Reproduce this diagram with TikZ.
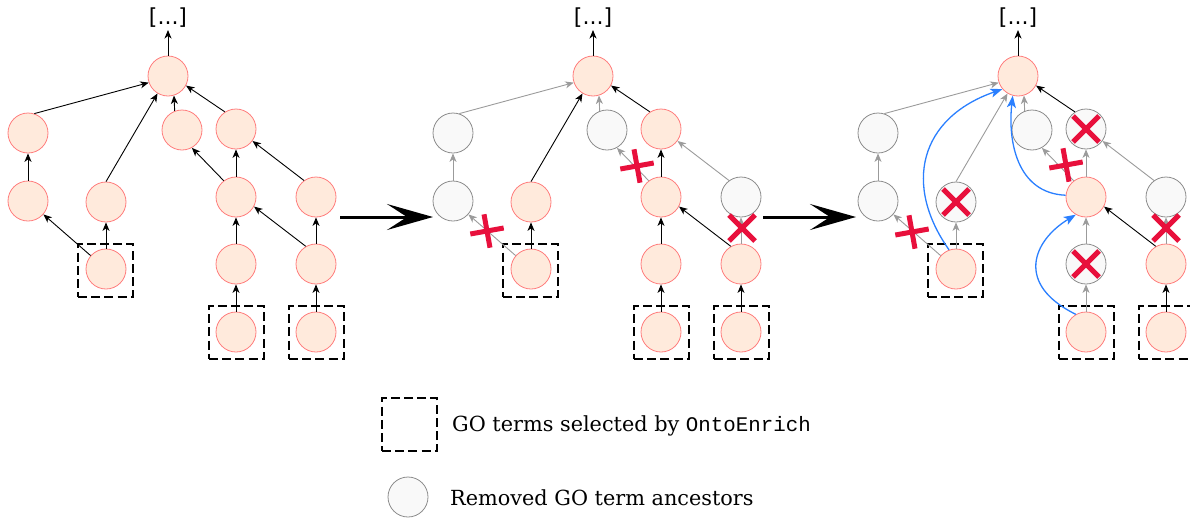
\documentclass[tikz,border=0pt]{standalone}
\usepackage{fontspec}
\setmainfont{DejaVu Serif}
\setsansfont{DejaVu Sans}
\setmonofont{Liberation Mono}
\usetikzlibrary{arrows.meta}
\definecolor{peach}{RGB}{255,234,220}
\definecolor{peachline}{RGB}{255,125,125}
\definecolor{grayfill}{RGB}{249,249,249}
\definecolor{grayline}{RGB}{140,140,140}
\definecolor{grayedge}{RGB}{155,155,155}
\definecolor{crossred}{RGB}{232,16,60}
\definecolor{curveblue}{RGB}{42,127,255}
\tikzset{
  term/.style={circle, minimum size=40pt, inner sep=0pt, draw=peachline, fill=peach, line width=0.8pt},
  removed/.style={term, draw=grayline, fill=grayfill},
  selbox/.style={draw=black, line width=2pt, dash pattern=on 9pt off 4.2pt, minimum width=55pt, minimum height=53pt, inner sep=0pt},
  bedge/.style={line width=0.9pt, draw=black, -{Stealth[length=8.5pt,width=7pt,inset=2.5pt]}},
  gedge/.style={bedge, draw=grayedge},
  redmark/.style={draw=crossred, line width=5pt},
  bluecurve/.style={draw=curveblue, line width=1.3pt, -{Stealth[length=12pt,width=9pt,inset=3pt]}},
  bigarrow/.style={line width=3pt, -{Stealth[length=46pt,width=26pt,inset=20pt]}},
  dotsnode/.style={font=\sffamily\fontsize{22}{24}\selectfont, inner sep=2.5pt},
  legtext/.style={font=\fontsize{20.8}{24}\selectfont, inner sep=0pt, anchor=base west},
  plusmark/.pic={\draw[redmark] (-16.7,3) -- (16.7,-3); \draw[redmark] (-3,-16.7) -- (3,16.7);},
  xmark/.pic={\draw[redmark] (-13,-13) -- (13,13); \draw[redmark] (-13,13) -- (13,-13);}
}
\begin{document}
\begin{tikzpicture}[x=1pt,y=-1pt]
\useasboundingbox (0,0) rectangle (1190,517);

% ---------------- Panel 1 ----------------
\begin{scope}[name prefix=a]
  \node[dotsnode] (dots) at (168,17.5) {[...]};
  \node[term] (T) at (168,76) {};
  \node[term] (A1) at (28,133) {};
  \node[term] (A2) at (28,201) {};
  \node[term] (B1) at (106,202) {};
  \node[term] (S1) at (106,269) {};
  \node[term] (C1) at (182,130) {};
  \node[term] (D1) at (236,129) {};
  \node[term] (D2) at (236,197) {};
  \node[term] (E1) at (316,197) {};
  \node[term] (D3) at (236,264) {};
  \node[term] (E2) at (316,264) {};
  \node[term] (D4) at (236,332) {};
  \node[term] (E3) at (316,332) {};
  \node[selbox] (S1box) at (105.5,270.5) {};
  \node[selbox] (D4box) at (236.5,332) {};
  \node[selbox] (E3box) at (316.5,332) {};
  \draw[bedge] (T.north) -- (dots.south);
  \draw[bedge] (A1.72) -- (T.-161);
  \draw[bedge] (B1.north) -- (T.-121);
  \draw[bedge] (C1.111) -- (T.-73);
  \draw[bedge] (D1.123) -- (T.-28);
  \draw[bedge] (A2.north) -- (A1.south);
  \draw[bedge] (S1) -- (A2);
  \draw[bedge] (S1.north) -- (B1.south);
  \draw[bedge] (D2.127) -- (C1.-61);
  \draw[bedge] (D2.north) -- (D1.south);
  \draw[bedge] (E1.126) -- (D1.-36);
  \draw[bedge] (D3.north) -- (D2.south);
  \draw[bedge] (E2.120) -- (D2.-28);
  \draw[bedge] (E2.north) -- (E1.south);
  \draw[bedge] (D4.north) -- (D3.south);
  \draw[bedge] (E3.north) -- (E2.south);
\end{scope}

% ---------------- Panel 2 ----------------
\begin{scope}[xshift=425pt, name prefix=b]
  \node[dotsnode] (dots) at (168,17.5) {[...]};
  \node[term] (T) at (168,76) {};
  \node[removed] (A1) at (28,133) {};
  \node[removed] (A2) at (28,201) {};
  \node[term] (B1) at (106,202) {};
  \node[term] (S1) at (106,269) {};
  \node[removed] (C1) at (182,130) {};
  \node[term] (D1) at (236,129) {};
  \node[term] (D2) at (236,197) {};
  \node[removed] (E1) at (316,197) {};
  \node[term] (D3) at (236,264) {};
  \node[term] (E2) at (316,264) {};
  \node[term] (D4) at (236,332) {};
  \node[term] (E3) at (316,332) {};
  \node[selbox] (S1box) at (105.5,270.5) {};
  \node[selbox] (D4box) at (236.5,332) {};
  \node[selbox] (E3box) at (316.5,332) {};
  \draw[bedge] (T.north) -- (dots.south);
  \draw[gedge] (A1.72) -- (T.-161);
  \draw[bedge] (B1.north) -- (T.-121);
  \draw[gedge] (C1.111) -- (T.-73);
  \draw[bedge] (D1.123) -- (T.-28);
  \draw[gedge] (A2.north) -- (A1.south);
  \draw[gedge] (S1) -- (A2);
  \draw[bedge] (S1.north) -- (B1.south);
  \draw[gedge] (D2.127) -- (C1.-61);
  \draw[bedge] (D2.north) -- (D1.south);
  \draw[gedge] (E1.126) -- (D1.-36);
  \draw[bedge] (D3.north) -- (D2.south);
  \draw[bedge] (E2.120) -- (D2.-28);
  \draw[gedge] (E2.north) -- (E1.south);
  \draw[bedge] (D4.north) -- (D3.south);
  \draw[bedge] (E3.north) -- (E2.south);
\end{scope}
\pic at (487,231) {plusmark};
\pic at (637,166) {plusmark};
\pic at (742,228) {xmark};

% ---------------- Panel 3 ----------------
\begin{scope}[xshift=850pt, name prefix=c]
  \node[dotsnode] (dots) at (168,17.5) {[...]};
  \node[term] (T) at (168,76) {};
  \node[removed] (A1) at (28,133) {};
  \node[removed] (A2) at (28,201) {};
  \node[removed] (B1) at (106,202) {};
  \node[term] (S1) at (106,269) {};
  \node[removed] (C1) at (182,130) {};
  \node[removed] (D1) at (236,129) {};
  \node[term] (D2) at (236,197) {};
  \node[removed] (E1) at (316,197) {};
  \node[removed] (D3) at (236,264) {};
  \node[term] (E2) at (316,264) {};
  \node[term] (D4) at (236,332) {};
  \node[term] (E3) at (316,332) {};
  \node[selbox] (S1box) at (105.5,270.5) {};
  \node[selbox] (D4box) at (236.5,332) {};
  \node[selbox] (E3box) at (316.5,332) {};
  \draw[bedge] (T.north) -- (dots.south);
  \draw[gedge] (A1.72) -- (T.-161);
  \draw[gedge] (B1.north) -- (T.-121);
  \draw[gedge] (C1.111) -- (T.-73);
  \draw[bedge] (D1.123) -- (T.-28);
  \draw[gedge] (A2.north) -- (A1.south);
  \draw[gedge] (S1) -- (A2);
  \draw[gedge] (S1.north) -- (B1.south);
  \draw[gedge] (D2.127) -- (C1.-61);
  \draw[gedge] (D2.north) -- (D1.south);
  \draw[gedge] (E1.126) -- (D1.-36);
  \draw[gedge] (D3.north) -- (D2.south);
  \draw[bedge] (E2.120) -- (D2.-28);
  \draw[gedge] (E2.north) -- (E1.south);
  \draw[gedge] (D4.north) -- (D3.south);
  \draw[bedge] (E3.north) -- (E2.south);
  \draw[bluecurve] (S1.110) .. controls +(-46,-65) and +(-83,29) .. (T.-140);
  \draw[bluecurve] (D2.175) .. controls +(-49,-2) and +(-5,45) .. (T.-105);
  \draw[bluecurve] (D4.120) .. controls +(-61,-30) and +(-43,26) .. (D2.-120);
\end{scope}
\pic at (912,232) {plusmark};
\pic at (956,202) {xmark};
\pic at (1086,129) {xmark};
\pic at (1066,165) {plusmark};
\pic at (1166,228) {xmark};
\pic at (1086,264) {xmark};

% ---------------- Big arrows ----------------
\coordinate (arrAs) at (340,217);
\coordinate (arrAe) at (433,217);
\coordinate (arrBs) at (763,217);
\coordinate (arrBe) at (856,217);
\draw[bigarrow] (arrAs) -- (arrAe);
\draw[bigarrow] (arrBs) -- (arrBe);

% ---------------- Legend ----------------
\node[selbox] (legbox) at (409.5,424.5) {};
\node[legtext] (legtextA) at (452,431) {GO terms selected by \texttt{OntoEnrich}};
\node[removed] (legcirc) at (408,497) {};
\node[legtext] (legtextB) at (450,505) {Removed GO term ancestors};
\end{tikzpicture}
\end{document}
